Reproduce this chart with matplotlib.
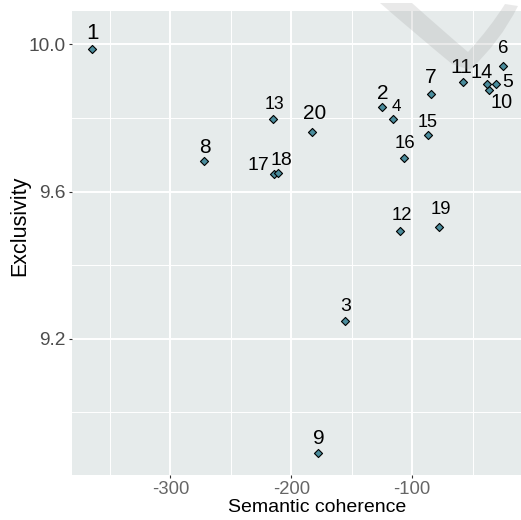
import matplotlib
matplotlib.use("Agg")
import matplotlib.pyplot as plt
from matplotlib.ticker import FixedLocator
from matplotlib.path import Path
from matplotlib.patches import PathPatch

# ---- data ----
topics = ["1", "2", "3", "4", "5", "6", "7", "8", "9", "10",
          "11", "12", "13", "14", "15", "16", "17", "18", "19", "20"]
semantic_coherence = [-364.4, -124.9, -155.6, -115.8, -30.5, -24.7, -84.8, -272.4, -178.2, -36.8,
                      -57.8, -110.0, -214.9, -38.4, -87.1, -106.4, -214.4, -211.1, -77.7, -183.2]
exclusivity = [9.986, 9.829, 9.248, 9.797, 9.892, 9.942, 9.866, 9.682, 8.891, 9.876,
               9.897, 9.493, 9.797, 9.892, 9.754, 9.692, 9.648, 9.651, 9.505, 9.763]
label_sizes = [16, 15, 14, 12.3, 14, 13.3, 15, 15, 15, 14.3,
               15, 13.3, 12.7, 14.3, 13, 13.3, 14, 14, 13.3, 15]
# label offsets in pixels (dx right, dy up) from the point to the text baseline
label_dx = [0, 0.7, 1, 3, 11, 0, 0, 1.7, 1.7, 13,
            -2, 1.3, 1.3, -5, 0, 1, -15, 4, 2, 3]
label_dy = [10, 8.3, 10.3, 8.3, -2.7, 12.4, 11, 8, 9, -18.3,
            9, 10.7, 9.7, 5.7, 8, 9.4, 4.3, 7.7, 13, 12.7]

x_major = [-300, -200, -100]
y_major = [9.2, 9.6, 10.0]
y_tick_labels = ["9.2", "9.6", "10.0"]

W, H = 521, 520
fig = plt.figure(figsize=(W / 100, H / 100), dpi=100)
plt.rcParams["font.family"] = ["Liberation Sans", "DejaVu Sans"]

ax = fig.add_axes([72 / W, (H - 475) / H, (W - 72) / W, (475 - 11) / H])
ax.set_facecolor("#E6EBEB")
for s in ax.spines.values():
    s.set_visible(False)

ax.set_xlim(-381.3, -10.0)
ax.set_ylim(8.830, 10.0905)

ax.xaxis.set_major_locator(FixedLocator(x_major))
ax.xaxis.set_minor_locator(FixedLocator([-350, -250, -150, -50]))
ax.yaxis.set_major_locator(FixedLocator(y_major))
ax.yaxis.set_minor_locator(FixedLocator([9.0, 9.4, 9.8]))
ax.set_yticklabels(y_tick_labels)
ax.set_xticklabels([str(v) for v in x_major])

ax.grid(which="major", color="white", linewidth=1.4)
ax.grid(which="minor", color="white", linewidth=0.7)
ax.set_axisbelow(True)

ax.tick_params(axis="both", which="major", length=2.5, width=0.8, color="#333333", pad=2)
ax.tick_params(axis="both", which="minor", length=0)
ax.tick_params(axis="x", labelsize=13.3, labelcolor="#666666")
ax.tick_params(axis="y", labelsize=13.8, labelcolor="#4D4D4D")

ax.scatter(semantic_coherence, exclusivity, marker="D", s=17,
           facecolor="#4A8C9C", edgecolor="black", linewidth=0.8, zorder=3)

for t, x, y, fs, dx, dy in zip(topics, semantic_coherence, exclusivity,
                               label_sizes, label_dx, label_dy):
    ax.annotate(t, (x, y), xytext=(dx, dy), textcoords="offset pixels",
                ha="center", va="baseline", fontsize=fs, color="black", zorder=4)

ax.set_xlabel("Semantic coherence", fontsize=14, color="black")
ax.set_ylabel("Exclusivity", fontsize=15.5, color="black")
ax.xaxis.set_label_coords((317.5 - 72) / (W - 72), -(508 - 475) / (475 - 11))
ax.xaxis.label.set_va("center")
ax.yaxis.set_label_coords(-(72 - 20) / (W - 72), (475 - 226) / (475 - 11))
ax.yaxis.label.set_va("center")

# faint watermark swoosh in the top-right corner (decoration)
def fx(px):
    return px / W

def fy(py):
    return 1 - py / H

verts = [(fx(380), fy(3)), (fx(412), fy(3)),
         (fx(442), fy(30)), (fx(468), fy(52)),
         (fx(490), fy(28)), (fx(505), fy(4)),
         (fx(518), fy(6)),
         (fx(500), fy(42)), (fx(470), fy(70)),
         (fx(452), fy(64)),
         (fx(418), fy(36)), (fx(380), fy(3))]
codes = [Path.MOVETO, Path.LINETO,
         Path.CURVE3, Path.CURVE3,
         Path.CURVE3, Path.CURVE3,
         Path.LINETO,
         Path.CURVE3, Path.CURVE3,
         Path.LINETO,
         Path.CURVE3, Path.CURVE3]
fig.patches.append(PathPatch(Path(verts, codes), transform=fig.transFigure,
                             facecolor="#8A8A8A", edgecolor="none", alpha=0.18,
                             zorder=10))

fig.savefig("out.png", dpi=100)
